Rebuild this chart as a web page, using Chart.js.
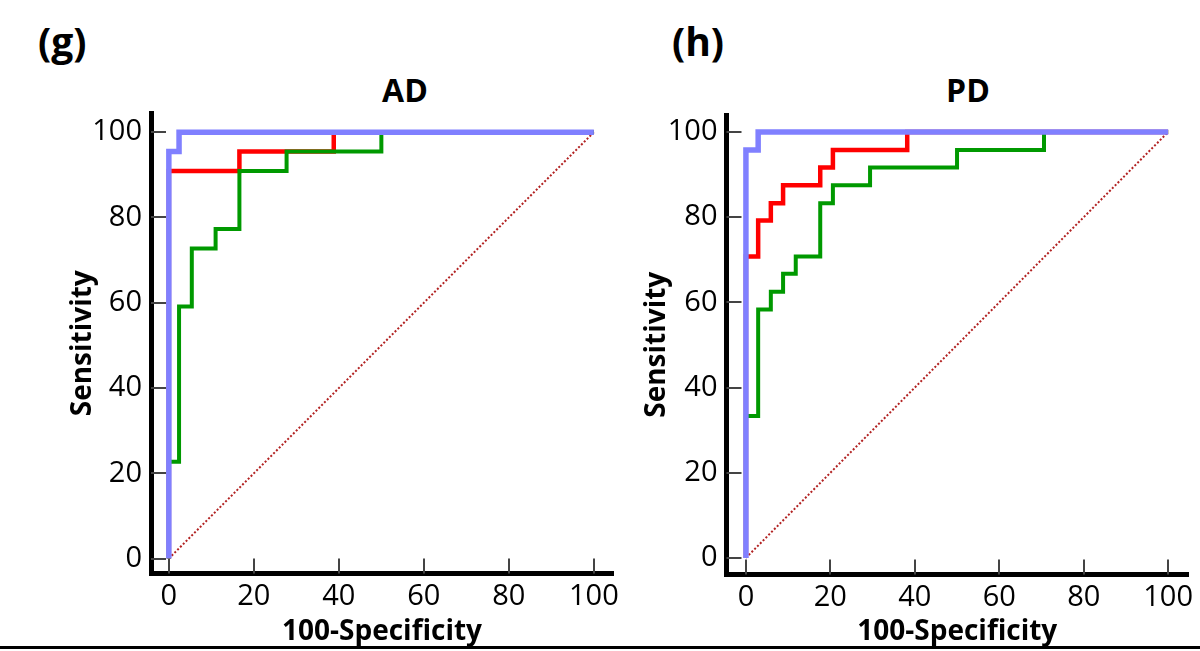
<!DOCTYPE html>
<html>
<head>
<meta charset="utf-8">
<script src="https://cdn.jsdelivr.net/npm/chart.js@4/dist/chart.umd.min.js"></script>
<style>
  html, body { margin: 0; padding: 0; background: #fff; width: 1200px; height: 651px; overflow: hidden; position: relative; }
  canvas { position: absolute; top: 0; }
  .lbl { position: absolute; font-family: 'Open Sans', sans-serif; font-weight: 700; color: #000; line-height: 1; white-space: nowrap; }
  .panel { font-size: 39px; top: 21px; }
  .ttl { font-size: 32px; top: 74px; transform: translateX(-50%); }
  .rule { position: absolute; left: 0; top: 646px; width: 1200px; height: 3px; background: #000; }
</style>
</head>
<body>
<div class="lbl panel" style="left:38px">(g)</div>
<div class="lbl ttl" style="left:405px">AD</div>
<div class="lbl panel" style="left:672px">(h)</div>
<div class="lbl ttl" style="left:968px">PD</div>
<canvas id="chartAD" width="640" height="651" style="left:0"></canvas>
<canvas id="chartPD" width="570" height="651" style="left:630px"></canvas>
<div class="rule"></div>
<script>
// axis ticks
const xTicks = [0, 20, 40, 60, 80, 100];
const yTicks = [0, 20, 40, 60, 80, 100];

// AD panel (100-specificity vs sensitivity, corner points)
const adBlueX = [0, 0, 2.4, 100];
const adBlueY = [0, 95.5, 100, 100];
const adRedX = [0, 0, 16.6, 38.8, 100];
const adRedY = [0, 90.9, 95.5, 100, 100];
const adGreenX = [0, 0, 2.4, 5.4, 11, 16.6, 27.7, 50, 100];
const adGreenY = [0, 22.7, 59.1, 72.7, 77.3, 90.9, 95.5, 100, 100];

// PD panel
const pdBlueX = [0, 0, 2.9, 100];
const pdBlueY = [0, 95.8, 100, 100];
const pdRedX = [0, 0, 2.9, 5.9, 8.8, 17.6, 20.6, 38.2, 100];
const pdRedY = [0, 70.8, 79.2, 83.3, 87.5, 91.7, 95.8, 100, 100];
const pdGreenX = [0, 0, 2.9, 5.9, 8.8, 11.8, 17.6, 20.6, 29.4, 50, 70.6, 100];
const pdGreenY = [0, 33.3, 58.3, 62.5, 66.7, 70.8, 83.3, 87.5, 91.7, 95.8, 100, 100];

// reference line
const refX = [0, 100];
const refY = [0, 100];

Chart.defaults.font.family = "'Open Sans', sans-serif";
Chart.defaults.color = '#000';

function pts(xs, ys) {
    return xs.map((v, i) => ({ x: v, y: ys[i] }));
}

// tick marks pointing into the plot
const inwardTicks = {
    id: 'inwardTicks',
    beforeDatasetsDraw(chart) {
        const { ctx, chartArea, scales: { x, y } } = chart;
        ctx.save();
        ctx.strokeStyle = '#444';
        ctx.lineWidth = 2;
        ctx.beginPath();
        x.ticks.forEach(t => {
            const px = Math.round(x.getPixelForValue(t.value));
            ctx.moveTo(px, chartArea.bottom);
            ctx.lineTo(px, chartArea.bottom - 15);
        });
        y.ticks.forEach(t => {
            const py = Math.round(y.getPixelForValue(t.value));
            ctx.moveTo(chartArea.left, py);
            ctx.lineTo(chartArea.left + 15, py);
        });
        ctx.stroke();
        ctx.restore();
    }
};

function makeChart(id, cfg) {
    return new Chart(document.getElementById(id), {
        type: 'line',
        data: {
            datasets: [{
                data: pts(cfg.blue[0], cfg.blue[1]),
                borderColor: '#8080ff',
                borderWidth: 5.5,
                stepped: true
            }, {
                data: pts(cfg.green[0], cfg.green[1]),
                borderColor: '#009900',
                borderWidth: 4,
                stepped: true
            }, {
                data: pts(cfg.red[0], cfg.red[1]),
                borderColor: '#ff0000',
                borderWidth: 4.5,
                stepped: true
            }, {
                data: pts(refX, refY),
                borderColor: '#b22222',
                borderWidth: 2,
                borderDash: [2, 2]
            }]
        },
        options: {
            responsive: false,
            animation: false,
            elements: {
                point: { radius: 0 },
                line: { tension: 0, fill: false }
            },
            layout: {
                padding: { top: cfg.top, right: cfg.right, left: 0, bottom: 0 }
            },
            plugins: {
                legend: { display: false },
                tooltip: { enabled: false }
            },
            scales: {
                x: {
                    type: 'linear',
                    min: cfg.xMin,
                    max: cfg.xMax,
                    afterBuildTicks: (s) => { s.ticks = xTicks.map(v => ({ value: v })); },
                    afterFit: (s) => { s.height = cfg.xH; },
                    grid: { drawOnChartArea: false, drawTicks: false },
                    border: { display: true, color: '#000', width: 5 },
                    ticks: { font: { size: 29 }, color: '#000', padding: 6 },
                    title: {
                        display: true,
                        text: '100-Specificity',
                        font: { size: 28, weight: 'bold' },
                        color: '#000',
                        padding: { top: 0, bottom: 2 }
                    }
                },
                y: {
                    type: 'linear',
                    min: cfg.yMin,
                    max: cfg.yMax,
                    afterBuildTicks: (s) => { s.ticks = yTicks.map(v => ({ value: v })); },
                    afterFit: (s) => { s.width = cfg.yW; },
                    grid: { drawOnChartArea: false, drawTicks: false },
                    border: { display: true, color: '#000', width: 5 },
                    ticks: { font: { size: 29 }, color: '#000', padding: 9 },
                    title: {
                        display: true,
                        text: 'Sensitivity',
                        font: { size: 28, weight: 'bold' },
                        color: '#000',
                        padding: { top: cfg.yTitlePad, bottom: 0 }
                    }
                }
            }
        },
        plugins: [inwardTicks]
    });
}

makeChart('chartAD', {
    blue: [adBlueX, adBlueY],
    red: [adRedX, adRedY],
    green: [adGreenX, adGreenY],
    xMin: -4.2, xMax: 104.5, yMin: -3.5, yMax: 104.5,
    top: 113, right: 27, xH: 77.5, yW: 151, yTitlePad: 66
});

makeChart('chartPD', {
    blue: [pdBlueX, pdBlueY],
    red: [pdRedX, pdRedY],
    green: [pdGreenX, pdGreenY],
    xMin: -4.6, xMax: 104.7, yMin: -3.9, yMax: 104.0,
    top: 115, right: 12, xH: 76.5, yW: 96.5, yTitlePad: 10
});
</script>
</body>
</html>
